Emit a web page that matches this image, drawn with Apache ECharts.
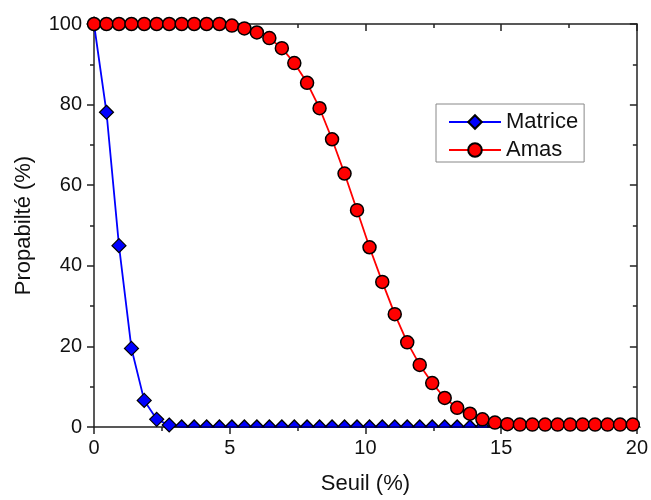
<!DOCTYPE html>
<html><head><meta charset="utf-8">
<script src="https://cdn.jsdelivr.net/npm/echarts@6/dist/echarts.min.js"></script>
<style>html,body{margin:0;padding:0;background:#fff}#c{width:651px;height:500px}</style>
</head><body><div id="c"></div>
<script>
const seuil = [0, 0.46, 0.92, 1.38, 1.85, 2.31, 2.77, 3.23, 3.69, 4.15, 4.62, 5.08, 5.54, 6.0, 6.46, 6.92, 7.38, 7.85, 8.31, 8.77, 9.23, 9.69, 10.15, 10.62, 11.08, 11.54, 12.0, 12.46, 12.92, 13.38, 13.85, 14.31, 14.77, 15.23, 15.69, 16.15, 16.62, 17.08, 17.54, 18.0, 18.46, 18.92, 19.38, 19.85];
const matrice = [100, 78.1, 45.0, 19.5, 6.6, 1.9, 0.5, 0, 0, 0, 0, 0, 0, 0, 0, 0, 0, 0, 0, 0, 0, 0, 0, 0, 0, 0, 0, 0, 0, 0, 0, 0, 0, 0, 0, 0, 0, 0, 0, 0, 0, 0, 0, 0];
const amas = [100, 100, 100, 100, 100, 100, 100, 100, 100, 100, 100, 99.6, 98.9, 97.9, 96.5, 94.0, 90.3, 85.4, 79.1, 71.4, 62.9, 53.8, 44.6, 36.0, 28.0, 21.0, 15.4, 10.9, 7.2, 4.75, 3.3, 1.9, 1.1, 0.7, 0.6, 0.6, 0.6, 0.6, 0.6, 0.6, 0.6, 0.6, 0.6, 0.6];
const seriesNames = ['Matrice', 'Amas'];
const xTicks = [0, 5, 10, 15, 20];
const yTicks = [0, 20, 40, 60, 80, 100];

const FONT = '"Liberation Sans", Arial, sans-serif';
const AX = '#222';

const blueData = seuil.map((x, i) => {
  const v = matrice[i];
  if (v === 0) {
    return { value: [x, v], symbol: 'triangle', symbolSize: [14, 7], symbolOffset: [0, -3.5] };
  }
  return { value: [x, v] };
});
const redData = seuil.map((x, i) => [x, amas[i]]);

const chart = echarts.init(document.getElementById('c'), null, { renderer: 'canvas' });
chart.setOption({
  backgroundColor: '#fff',
  animation: false,
  textStyle: { fontFamily: FONT },
  grid: { left: 94, right: 12, top: 24, bottom: 71, containLabel: false },
  legend: {
    data: seriesNames,
    orient: 'vertical',
    left: 436, top: 104,
    padding: [7, 6, 1, 12],
    itemGap: 6,
    itemWidth: 52, itemHeight: 17,
    borderColor: '#888', borderWidth: 1, borderRadius: 0,
    backgroundColor: '#fff',
    textStyle: { fontSize: 22, color: '#111', fontFamily: FONT }
  },
  xAxis: [{
    type: 'value', min: xTicks[0], max: xTicks[xTicks.length - 1], interval: 5,
    name: 'Seuil (%)', nameLocation: 'middle', nameGap: 46,
    nameTextStyle: { fontSize: 22, color: '#111', fontFamily: FONT },
    axisLine: { onZero: false, lineStyle: { color: AX, width: 1.5 } },
    axisTick: { inside: false, length: 7, lineStyle: { color: AX, width: 1.5 } },
    minorTick: { show: true, splitNumber: 2, length: 4, lineStyle: { color: AX, width: 1.5 } },
    axisLabel: { fontSize: 20, color: '#111', margin: 11, fontFamily: FONT },
    splitLine: { show: false }
  }, {
    type: 'value', position: 'top', min: xTicks[0], max: xTicks[xTicks.length - 1], interval: 5,
    axisLine: { onZero: false, lineStyle: { color: AX, width: 1.5 } },
    axisTick: { inside: true, length: 7, lineStyle: { color: AX, width: 1.5 } },
    minorTick: { show: true, splitNumber: 2, length: 4, lineStyle: { color: AX, width: 1.5 } },
    axisLabel: { show: false }, splitLine: { show: false }
  }],
  yAxis: [{
    type: 'value', min: yTicks[0], max: yTicks[yTicks.length - 1], interval: 20,
    name: 'Propabilté (%)', nameLocation: 'middle', nameGap: 59, nameRotate: 90,
    nameTextStyle: { fontSize: 22, color: '#111', fontFamily: FONT },
    axisLine: { onZero: false, lineStyle: { color: AX, width: 1.5 } },
    axisTick: { inside: false, length: 7, lineStyle: { color: AX, width: 1.5 } },
    minorTick: { show: true, splitNumber: 2, length: 4, lineStyle: { color: AX, width: 1.5 } },
    axisLabel: { fontSize: 20, color: '#111', margin: 12, fontFamily: FONT },
    splitLine: { show: false }
  }, {
    type: 'value', position: 'right', min: yTicks[0], max: yTicks[yTicks.length - 1], interval: 20,
    axisLine: { onZero: false, lineStyle: { color: AX, width: 1.5 } },
    axisTick: { inside: true, length: 7, lineStyle: { color: AX, width: 1.5 } },
    minorTick: { show: true, splitNumber: 2, length: 4, lineStyle: { color: AX, width: 1.5 } },
    axisLabel: { show: false }, splitLine: { show: false }
  }],
  series: [{
    name: seriesNames[0], type: 'line', xAxisIndex: 0, yAxisIndex: 0,
    data: blueData, symbol: 'diamond', symbolSize: 14, showAllSymbol: true,
    lineStyle: { color: '#0000ff', width: 1.8 },
    itemStyle: { color: '#0000ff', borderColor: '#000', borderWidth: 1.2 },
    clip: false, z: 2
  }, {
    name: seriesNames[1], type: 'line', xAxisIndex: 0, yAxisIndex: 0,
    data: redData, symbol: 'circle', symbolSize: 13, showAllSymbol: true,
    lineStyle: { color: '#ff0000', width: 1.8 },
    itemStyle: { color: '#ff0000', borderColor: '#000', borderWidth: 1.5 },
    clip: false, z: 3
  }]
});
</script></body></html>
